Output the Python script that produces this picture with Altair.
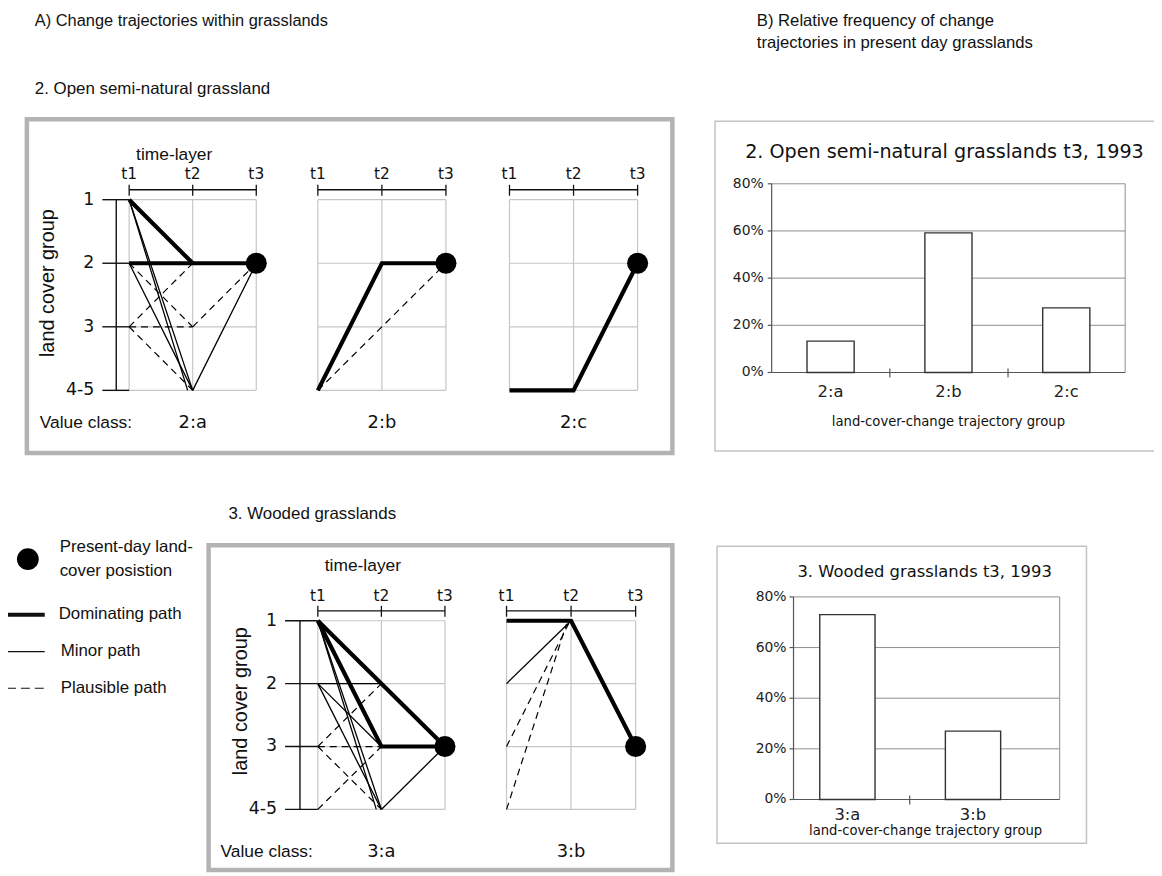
import altair as alt
import pandas as pd

# ---------------- data ----------------
time_values = [1, 2, 3]
time_labels = ["t1", "t2", "t3"]
group_values = [1, 2, 3, 4]
group_labels = ["1", "2", "3", "4-5"]

# trajectory paths: (style, [(time, group), ...]); group 4 = "4-5"
paths_2a = [
    ("dominating", [(1, 1), (2, 2)]),
    ("dominating", [(1, 2), (2, 2), (3, 2)]),
    ("minor", [(1, 1), (2, 4)]),
    ("minor", [(1, 1), (1.92, 4)]),
    ("minor", [(1, 2), (2, 4)]),
    ("minor", [(2, 4), (3, 2)]),
    ("plausible", [(1, 2), (2, 3)]),
    ("plausible", [(1, 3), (2, 2)]),
    ("plausible", [(1, 3), (2, 3)]),
    ("plausible", [(1, 3), (2, 4)]),
    ("plausible", [(2, 3), (3, 2)]),
]
paths_2b = [
    ("dominating", [(1, 4), (2, 2), (3, 2)]),
    ("plausible", [(1, 4), (3, 2)]),
]
paths_2c = [
    ("dominating", [(1, 4), (2, 4), (3, 2)]),
]
paths_3a = [
    ("dominating", [(1, 1), (3, 3)]),
    ("dominating", [(1, 1), (2, 3), (3, 3)]),
    ("minor", [(1, 1), (2, 4)]),
    ("minor", [(1, 1), (1.92, 4)]),
    ("minor", [(1, 2), (2, 2)]),
    ("minor", [(1, 2), (2, 3)]),
    ("minor", [(1, 2), (2, 4)]),
    ("minor", [(2, 4), (3, 3)]),
    ("plausible", [(1, 3), (2, 2)]),
    ("plausible", [(1, 3), (2, 3)]),
    ("plausible", [(1, 3), (2, 4)]),
    ("plausible", [(1, 4), (2, 3)]),
]
paths_3b = [
    ("dominating", [(1, 1), (2, 1), (3, 3)]),
    ("minor", [(1, 2), (2, 1)]),
    ("plausible", [(1, 3), (1.96, 1.05)]),
    ("plausible", [(1, 4), (1.93, 1.05)]),
]
present_2 = (3, 2)
present_3 = (3, 3)

bar_cats_open = ["2:a", "2:b", "2:c"]
bar_vals_open = [0.133, 0.592, 0.274]
bar_cats_wood = ["3:a", "3:b"]
bar_vals_wood = [0.73, 0.27]
pct_values = [0.0, 0.2, 0.4, 0.6, 0.8]
pct_labels = ["0%", "20%", "40%", "60%", "80%"]

# ---------------- layout helpers ----------------
M = 8
FL = "Liberation Sans"
FB = "DejaVu Sans"
INK = "#111111"
ONE = alt.Data(values=[{"k": 0}])


def px(v):
    return v - M


def text(s, x, y, size, font=FL, align="left", angle=0, color=INK):
    kw = dict(font=font, fontSize=size, align=align, baseline="middle", color=color)
    if angle:
        kw["angle"] = angle
    return alt.Chart(ONE).mark_text(**kw).encode(
        x=alt.value(px(x)), y=alt.value(px(y)), text=alt.value(s))


def frame(x0, y0, x1, y1, color, width):
    return alt.Chart(ONE).mark_rect(fill="white", fillOpacity=0, stroke=color, strokeWidth=width).encode(
        x=alt.value(px(x0)), x2=alt.value(px(x1)), y=alt.value(px(y0)), y2=alt.value(px(y1)))


def hline(x0, x1, y, width, dash=None, color=INK):
    kw = dict(color=color, strokeWidth=width)
    if dash:
        kw["strokeDash"] = dash
    return alt.Chart(ONE).mark_rule(**kw).encode(
        x=alt.value(px(x0)), x2=alt.value(px(x1)), y=alt.value(px(y)))


STYLES = {
    "dominating": dict(strokeWidth=4.2),
    "minor": dict(strokeWidth=1.3),
    "plausible": dict(strokeWidth=1.2, strokeDash=[7, 5]),
}


def traj_panel(name, paths, present, xr, yr, axis_y, tlab_y, class_y, left=None):
    xs = alt.Scale(domain=[min(time_values), max(time_values)], range=[px(xr[0]), px(xr[1])],
                   nice=False, zero=False)
    ys = alt.Scale(domain=[min(group_values), max(group_values)], range=[px(yr[0]), px(yr[1])],
                   nice=False, zero=False)

    def X(f):
        return alt.X(f, type="quantitative", scale=xs, axis=None)

    def Y(f):
        return alt.Y(f, type="quantitative", scale=ys, axis=None)

    layers = []
    gv = pd.DataFrame({"t": time_values, "g0": min(group_values), "g1": max(group_values)})
    layers.append(alt.Chart(gv).mark_rule(color="#c6c6c6", strokeWidth=1.2).encode(
        x=X("t"), y=Y("g0"), y2="g1"))
    gh = pd.DataFrame({"g": group_values, "t0": min(time_values), "t1": max(time_values)})
    layers.append(alt.Chart(gh).mark_rule(color="#c6c6c6", strokeWidth=1.2).encode(
        x=X("t0"), x2="t1", y=Y("g")))
    # time-layer axis on top
    ta = pd.DataFrame({"t0": [min(time_values)], "t1": [max(time_values)]})
    layers.append(alt.Chart(ta).mark_rule(color=INK, strokeWidth=1.3).encode(
        x=X("t0"), x2="t1", y=alt.value(px(axis_y))))
    tt = pd.DataFrame({"t": time_values, "label": time_labels})
    layers.append(alt.Chart(tt).mark_rule(color=INK, strokeWidth=1.3).encode(
        x=X("t"), y=alt.value(px(axis_y - 5)), y2=alt.value(px(axis_y + 6))))
    layers.append(alt.Chart(tt).mark_text(font=FB, fontSize=15.5, color=INK, baseline="middle").encode(
        x=X("t"), y=alt.value(px(tlab_y)), text="label"))
    # paths
    for style, kw in STYLES.items():
        rows = []
        for i, (st, pts) in enumerate(paths):
            if st != style:
                continue
            for j, (t, g) in enumerate(pts):
                rows.append({"pid": i, "ord": j, "t": t, "g": g})
        if not rows:
            continue
        layers.append(alt.Chart(pd.DataFrame(rows)).mark_line(
            color="black", strokeJoin="miter", **kw).encode(
            x=X("t"), y=Y("g"), detail="pid:N", order="ord:Q"))
    # present-day position
    pdf = pd.DataFrame({"t": [present[0]], "g": [present[1]]})
    layers.append(alt.Chart(pdf).mark_circle(size=450, color="black", opacity=1).encode(
        x=X("t"), y=Y("g")))
    # value class label
    cdf = pd.DataFrame({"t": [time_values[1]], "label": [name]})
    layers.append(alt.Chart(cdf).mark_text(font=FB, fontSize=18, color=INK, baseline="middle").encode(
        x=X("t"), y=alt.value(px(class_y)), text="label"))
    # left bracket axis (land cover group)
    if left:
        vx, tx0, tx1, lab_r = left
        la = pd.DataFrame({"g0": [min(group_values)], "g1": [max(group_values)]})
        layers.append(alt.Chart(la).mark_rule(color=INK, strokeWidth=1.4).encode(
            x=alt.value(px(vx)), y=Y("g0"), y2="g1"))
        gl = pd.DataFrame({"g": group_values, "label": group_labels})
        layers.append(alt.Chart(gl).mark_rule(color=INK, strokeWidth=1.4).encode(
            x=alt.value(px(tx0)), x2=alt.value(px(tx1)), y=Y("g")))
        layers.append(alt.Chart(gl).mark_text(font=FB, fontSize=17.5, color=INK, align="right",
                                              baseline="middle").encode(
            x=alt.value(px(lab_r)), y=Y("g"), text="label"))
    return alt.layer(*layers)


def bar_panel(cats, vals, band, pin, plot_x, plot_y, lab_r, cat_y, seps):
    xs = alt.Scale(domain=cats, range=[px(band[0]), px(band[1])], paddingInner=pin, paddingOuter=pin / 2)
    ys = alt.Scale(domain=[min(pct_values), max(pct_values)], range=[px(plot_y[1]), px(plot_y[0])],
                   nice=False, zero=True)

    def Y(f):
        return alt.Y(f, type="quantitative", scale=ys, axis=None)

    layers = []
    grid = pd.DataFrame({"v": pct_values[1:]})
    layers.append(alt.Chart(grid).mark_rule(color="#8e8e8e", strokeWidth=1).encode(
        x=alt.value(px(plot_x[0])), x2=alt.value(px(plot_x[1])), y=Y("v")))
    layers.append(alt.Chart(ONE).mark_rule(color="#8e8e8e", strokeWidth=1).encode(
        x=alt.value(px(plot_x[1])), y=alt.value(px(plot_y[0])), y2=alt.value(px(plot_y[1]))))
    base = pd.DataFrame({"v": pct_values[:1]})
    layers.append(alt.Chart(base).mark_rule(color="#555555", strokeWidth=1.2).encode(
        x=alt.value(px(plot_x[0])), x2=alt.value(px(plot_x[1])), y=Y("v")))
    layers.append(alt.Chart(ONE).mark_rule(color="#555555", strokeWidth=1.2).encode(
        x=alt.value(px(plot_x[0])), y=alt.value(px(plot_y[0])), y2=alt.value(px(plot_y[1]))))
    ticks = pd.DataFrame({"v": pct_values, "label": pct_labels})
    layers.append(alt.Chart(ticks).mark_rule(color="#555555", strokeWidth=1.2).encode(
        x=alt.value(px(plot_x[0] - 4)), x2=alt.value(px(plot_x[0])), y=Y("v")))
    layers.append(alt.Chart(ticks).mark_text(font=FB, fontSize=14, color="#222222", align="right",
                                             baseline="middle").encode(
        x=alt.value(px(lab_r)), y=Y("v"), text="label"))
    for s in seps:
        layers.append(alt.Chart(ONE).mark_rule(color="#555555", strokeWidth=1.2).encode(
            x=alt.value(px(s)), y=alt.value(px(plot_y[1] - 4)), y2=alt.value(px(plot_y[1] + 5))))
    bars = pd.DataFrame({"cat": cats, "val": vals})
    layers.append(alt.Chart(bars).mark_bar(fill="white", stroke="#333333", strokeWidth=1.4).encode(
        x=alt.X("cat:N", scale=xs, axis=None, sort=cats), y=Y("val")))
    layers.append(alt.Chart(bars).mark_text(font=FB, fontSize=16.5, color="#222222", baseline="middle").encode(
        x=alt.X("cat:N", scale=xs, axis=None, sort=cats), y=alt.value(px(cat_y)), text="cat"))
    return alt.layer(*layers)


layers = []
# headings
layers.append(text("A) Change trajectories within grasslands", 35, 18, 16.5))
layers.append(text("B) Relative frequency of change", 762, 18, 16.8))
layers.append(text("trajectories in present day grasslands", 762, 40, 16.8))
layers.append(text("2. Open semi-natural grassland", 35, 87, 17))
layers.append(text("3. Wooded grasslands", 230, 515, 17))

# frames
layers.append(frame(27, 117, 677, 453, "#b3b3b3", 4.5))
layers.append(frame(210, 546, 677, 873, "#b3b3b3", 4.5))
layers.append(frame(720, 119, 1180, 451, "#c4c4c4", 1.5))
layers.append(frame(722, 547, 1094, 846, "#c4c4c4", 1.5))

# row 1 trajectory panels
layers.append(text("time-layer", 137, 153, 17.5))
layers.append(text("land cover group", 48, 282, 20, align="center", angle=270))
layers.append(text("Value class:", 40, 423, 17.5))
layers.append(traj_panel("2:a", paths_2a, present_2, (130, 258), (198, 390), 188, 172, 423,
                         left=(117, 103, 130, 95)))
layers.append(traj_panel("2:b", paths_2b, present_2, (320, 449), (198, 390), 188, 172, 423))
layers.append(traj_panel("2:c", paths_2c, present_2, (513, 642), (198, 390), 188, 172, 423))

# row 2 trajectory panels
layers.append(text("time-layer", 327, 567, 17.5))
layers.append(text("land cover group", 243, 703, 20, align="center", angle=270))
layers.append(text("Value class:", 222, 855, 17.5))
layers.append(traj_panel("3:a", paths_3a, present_3, (320, 448), (622, 812), 612, 597, 855,
                         left=(302, 287, 320, 279)))
layers.append(traj_panel("3:b", paths_3b, present_3, (510, 640), (622, 812), 612, 597, 855))

# legend
layers.append(alt.Chart(ONE).mark_circle(size=480, color="black", opacity=1).encode(
    x=alt.value(px(28)), y=alt.value(px(560))))
layers.append(text("Present-day land-", 60, 548, 17))
layers.append(text("cover posistion", 60, 572, 17))
layers.append(hline(7, 45, 616, 4.2))
layers.append(text("Dominating path", 59, 615, 17))
layers.append(hline(7, 45, 653, 1.3))
layers.append(text("Minor path", 61, 653, 17))
layers.append(hline(7, 45, 690, 1.2, dash=[9, 5]))
layers.append(text("Plausible path", 61, 690, 17))

# bar chart 1
layers.append(text("2. Open semi-natural grasslands t3, 1993", 951, 150, 19.3, font=FB, align="center"))
layers.append(bar_panel(bar_cats_open, bar_vals_open, (777, 1133), 0.6, (777, 1133), (182, 372),
                        769, 392, [896, 1015]))
layers.append(text("land-cover-change trajectory group", 955, 422, 13.3, font=FB, align="center"))

# bar chart 2
layers.append(text("3. Wooded grasslands t3, 1993", 931, 573, 16.5, font=FB, align="center"))
layers.append(bar_panel(bar_cats_wood, bar_vals_wood, (790, 1043), 0.56, (799, 1067), (598, 802),
                        792, 818, [916]))
layers.append(text("land-cover-change trajectory group", 932, 834, 13.3, font=FB, align="center"))

chart = alt.layer(*layers).resolve_scale(x="independent", y="independent").properties(
    width=1154, height=866, autosize=alt.AutoSizeParams(type="none"), padding=0
).configure_view(stroke=None)

chart.save("out.html", embed_options={"renderer": "svg", "actions": False})
